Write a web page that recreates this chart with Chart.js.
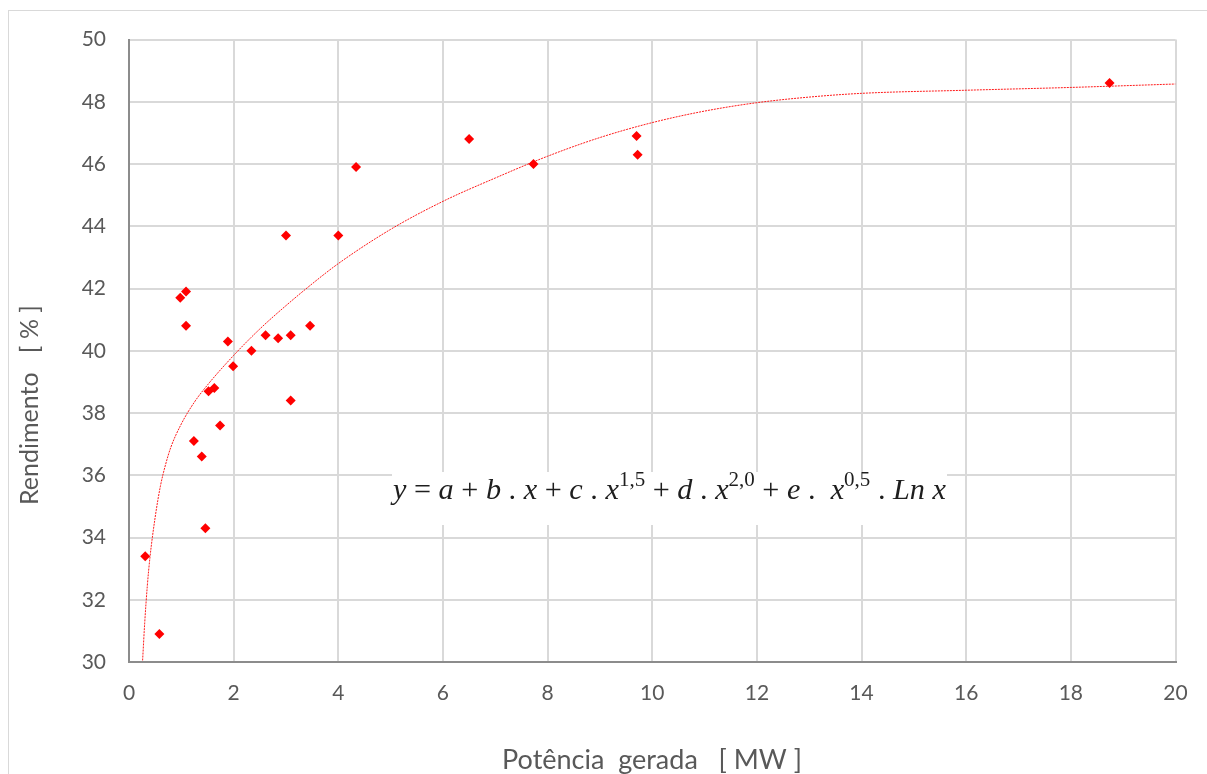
<!DOCTYPE html>
<html>
<head>
<meta charset="utf-8">
<script src="https://cdn.jsdelivr.net/npm/chart.js@4"></script>
<style>
  html, body { margin: 0; padding: 0; background: #fff; overflow: hidden; }
  #frame { position: absolute; left: 8px; top: 10px; width: 1300px; height: 900px; border: 1px solid #d9d9d9; }
  #wrap { position: absolute; left: 0; top: 0; width: 1207px; height: 774px; }
</style>
</head>
<body>
<div id="frame"></div>
<div id="wrap"><canvas id="efficiencyChart"></canvas></div>
<script>
// measured points: generated power [MW] vs efficiency [%]
const powerMW = [0.31, 0.58, 0.98, 1.09, 1.09, 1.24, 1.39, 1.46, 1.52, 1.63, 1.74, 1.89, 1.99,
  2.34, 2.61, 2.85, 3.0, 3.09, 3.09, 3.46, 4.0, 4.34, 6.5, 7.73, 9.7, 9.72, 18.74];
const efficiency = [33.4, 30.9, 41.7, 41.9, 40.8, 37.1, 36.6, 34.3, 38.7, 38.8, 37.6, 40.3, 39.5,
  40.0, 40.5, 40.4, 43.7, 40.5, 38.4, 40.8, 43.7, 45.9, 46.8, 46.0, 46.9, 46.3, 48.6];

// trend line
const trendX = [0.26, 0.3, 0.35, 0.4, 0.5, 0.6, 0.7, 0.8, 1.0, 1.25, 1.5, 2.0, 2.5, 3.0, 3.5, 4.0,
  5.0, 6.0, 7.0, 8.0, 9.0, 10, 11, 12, 13, 14, 16, 18, 20];
const trendY = [30.05, 31.25, 32.45, 33.35, 34.65, 35.65, 36.35, 36.9, 37.65, 38.35, 38.9, 39.85, 40.7, 41.45, 42.15, 42.8,
  43.9, 44.8, 45.55, 46.25, 46.85, 47.33, 47.7, 47.97, 48.15, 48.27, 48.37, 48.46, 48.57];

const xTitle = 'Potência  gerada   [ MW ]';
const yTitle = 'Rendimento   [ % ]';
const equation = [
  ['y', 'i'], [' = ', 'n'], ['a', 'i'], [' + ', 'n'], ['b', 'i'], [' . ', 'n'], ['x', 'i'],
  [' + ', 'n'], ['c', 'i'], [' . ', 'n'], ['x', 'i'], ['1,5', 's'], [' + ', 'n'], ['d', 'i'],
  [' . ', 'n'], ['x', 'i'], ['2,0', 's'], [' + ', 'n'], ['e', 'i'], [' .  ', 'n'], ['x', 'i'],
  ['0,5', 's'], [' . ', 'n'], ['Ln', 'i'], [' ', 'n'], ['x', 'i']
];

const labelFont = 'Lato';
const textGray = '#595959';

const titlesPlugin = {
  id: 'axisTitles',
  afterDraw(chart) {
    const ctx = chart.ctx;
    ctx.save();
    ctx.fillStyle = textGray;
    ctx.textAlign = 'center';
    ctx.textBaseline = 'middle';
    ctx.font = '27px ' + labelFont;
    ctx.fillText(xTitle, 652, 760);
    ctx.font = '25px ' + labelFont;
    ctx.translate(30, 405);
    ctx.rotate(-Math.PI / 2);
    ctx.fillText(yTitle, 0, 0);
    ctx.restore();
  }
};

const equationPlugin = {
  id: 'equationBox',
  afterDatasetsDraw(chart) {
    const ctx = chart.ctx;
    const boxL = 392, boxR = 947, boxT = 472, boxB = 525;
    ctx.save();
    ctx.fillStyle = '#fff';
    ctx.fillRect(boxL, boxT, boxR - boxL, boxB - boxT);
    const fontFor = (kind, size) => {
      if (kind === 'i') return 'italic ' + size + 'px "Liberation Serif"';
      if (kind === 's') return Math.round(size * 0.68) + 'px "Liberation Serif"';
      return size + 'px "Liberation Serif"';
    };
    const measure = size => equation.reduce((w, [t, k]) => {
      ctx.font = fontFor(k, size);
      return w + ctx.measureText(t).width;
    }, 0);
    let size = 26;
    size = size * (boxR - boxL - 2) / measure(size);
    let x = boxL + 1;
    const base = 499;
    ctx.fillStyle = '#1e1e1e';
    ctx.textBaseline = 'alphabetic';
    equation.forEach(([t, k]) => {
      ctx.font = fontFor(k, size);
      ctx.fillText(t, x, k === 's' ? base - size * 0.42 : base);
      x += ctx.measureText(t).width;
    });
    ctx.restore();
  }
};

document.addEventListener('DOMContentLoaded', function() {
  const ctx = document.getElementById('efficiencyChart').getContext('2d');
  new Chart(ctx, {
    type: 'scatter',
    data: {
      datasets: [{
        label: 'Rendimento',
        data: powerMW.map((x, i) => ({ x: x, y: efficiency[i] })),
        pointStyle: 'rectRot',
        pointRadius: 5,
        backgroundColor: '#ff0000',
        borderColor: '#ff0000',
        borderWidth: 0,
        order: 1
      }, {
        label: 'Tendência',
        data: trendX.map((x, i) => ({ x: x, y: trendY[i] })),
        showLine: true,
        pointRadius: 0,
        borderColor: 'rgba(255, 0, 0, 0.9)',
        borderWidth: 1,
        borderDash: [2, 1],
        cubicInterpolationMode: 'monotone',
        order: 2
      }]
    },
    options: {
      responsive: true,
      maintainAspectRatio: false,
      animation: false,
      layout: { padding: { top: 39.5, right: 31.5, bottom: 0, left: 0 } },
      plugins: {
        legend: { display: false },
        tooltip: { enabled: false }
      },
      scales: {
        x: {
          type: 'linear',
          min: 0,
          max: 20,
          ticks: { stepSize: 2, padding: 19, color: textGray, font: { family: labelFont, size: 21 } },
          grid: { color: '#d9d9d9', lineWidth: 2, drawTicks: false },
          border: { color: '#8c8c8c', width: 2 },
          afterFit(scale) { scale.height = 112; scale.paddingLeft = 0; scale.paddingRight = 0; }
        },
        y: {
          min: 30,
          max: 50,
          ticks: { stepSize: 2, padding: 23, color: textGray, font: { family: labelFont, size: 21 } },
          grid: { color: '#d9d9d9', lineWidth: 2, drawTicks: false },
          border: { color: '#8c8c8c', width: 2 },
          afterFit(scale) { scale.width = 129; scale.paddingTop = 0; scale.paddingBottom = 0; }
        }
      }
    },
    plugins: [equationPlugin, titlesPlugin]
  });
});
</script>
</body>
</html>
